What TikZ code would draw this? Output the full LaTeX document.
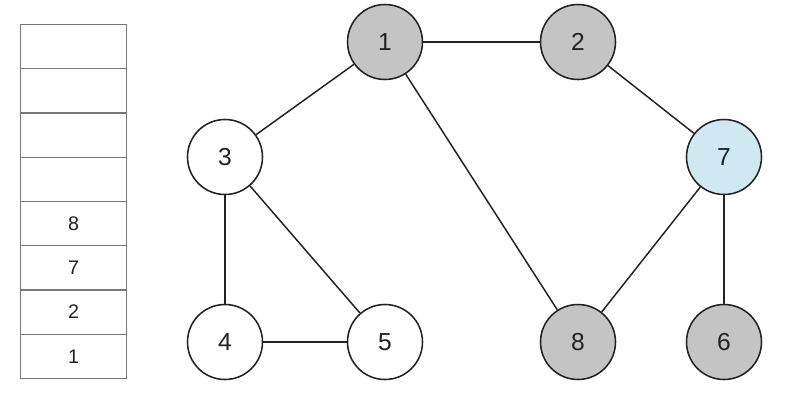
\documentclass[tikz,border=0pt]{standalone}
\usepackage{fontspec}
\setmainfont{Liberation Sans}
\usepackage{tikz}
\usetikzlibrary{positioning}
\definecolor{ink}{HTML}{222222}
\definecolor{cellline}{HTML}{777777}
\definecolor{visited}{HTML}{C4C4C4}
\definecolor{current}{HTML}{CFE8F2}

\begin{document}
\begin{tikzpicture}[
  vertex/.style={circle,draw=ink,line width=1.1pt,minimum size=1.875cm,inner sep=0pt,font=\fontsize{17.5}{19}\selectfont,text=ink},
  seen/.style={vertex,fill=visited},
  edge/.style={draw=ink,line width=1.05pt}]
  \useasboundingbox (0,0) rectangle (19.975,9.8);

  % stack of visited vertices
  \foreach \i/\lbl in {0/1,1/2,2/7,3/8,4/,5/,6/,7/} {
    \node[draw=cellline,line width=0.8pt,minimum width=2.65cm,minimum height=1.106cm,inner sep=0pt,
          font=\fontsize{14}{16}\selectfont,text=ink,anchor=south west] (cell\i) at (0.5,0.325+1.106*\i) {\lbl};
  }

  % graph
  \node[seen] (v1) at (9.625,8.75) {1};
  \node[seen] (v2) at (14.45,8.75) {2};
  \node[vertex] (v3) at (5.625,5.875) {3};
  \node[vertex,fill=current] (v7) at (18.1,5.875) {7};
  \node[vertex] (v4) at (5.625,1.25) {4};
  \node[vertex] (v5) at (9.625,1.25) {5};
  \node[seen] (v8) at (14.45,1.25) {8};
  \node[seen] (v6) at (18.1,1.25) {6};

  \draw[edge] (v1) -- (v2);
  \draw[edge] (v1) -- (v3);
  \draw[edge] (v1) -- (v8);
  \draw[edge] (v2) -- (v7);
  \draw[edge] (v3) -- (v4);
  \draw[edge] (v3) -- (v5);
  \draw[edge] (v4) -- (v5);
  \draw[edge] (v7) -- (v8);
  \draw[edge] (v7) -- (v6);
\end{tikzpicture}
\end{document}
